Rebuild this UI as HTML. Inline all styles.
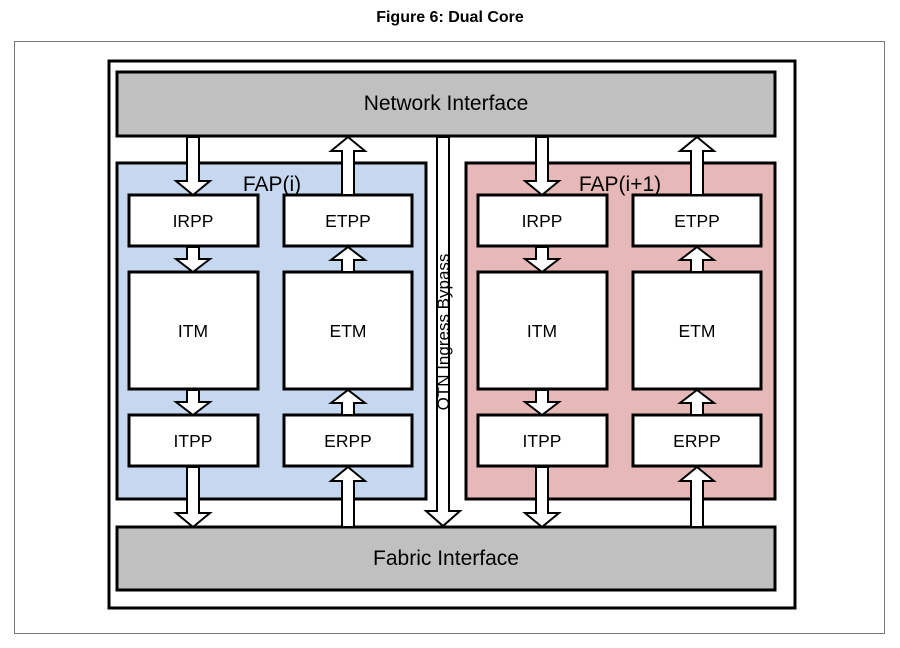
<!DOCTYPE html>
<html><head><style>body{margin:0;background:#fff}svg{display:block}</style></head><body>
<svg width="900" height="648" xmlns="http://www.w3.org/2000/svg" font-family="Liberation Sans, Arial, sans-serif">
<text x="450" y="22" text-anchor="middle" font-size="16" font-weight="bold">Figure 6:  Dual Core</text>
<rect x="14.5" y="41.5" width="870" height="592" fill="none" stroke="#777" stroke-width="1"/>
<rect x="109" y="61" width="686" height="547" fill="#fff" stroke="#000" stroke-width="3"/>
<rect x="117" y="72" width="658" height="64" fill="#c0c0c0" stroke="#000" stroke-width="3"/>
<text x="446" y="110" text-anchor="middle" font-size="21">Network Interface</text>
<rect x="117" y="527" width="658" height="63" fill="#c0c0c0" stroke="#000" stroke-width="3"/>
<text x="446" y="565" text-anchor="middle" font-size="21">Fabric Interface</text>
<rect x="117" y="163" width="309" height="336" fill="#c6d8ef" stroke="#000" stroke-width="3"/>
<rect x="466" y="163" width="309" height="336" fill="#e6b9b8" stroke="#000" stroke-width="3"/>
<text x="272" y="191" text-anchor="middle" font-size="21">FAP(i)</text>
<text x="620" y="191" text-anchor="middle" font-size="21">FAP(i+1)</text>
<g fill="#fff" stroke="#000" stroke-width="3">
<rect x="129" y="195" width="129" height="51"/><rect x="284" y="195" width="128" height="51"/>
<rect x="129" y="272" width="129" height="117"/><rect x="284" y="272" width="128" height="117"/>
<rect x="129" y="415" width="129" height="51"/><rect x="284" y="415" width="128" height="51"/>
<rect x="478" y="195" width="129" height="51"/><rect x="633" y="195" width="128" height="51"/>
<rect x="478" y="272" width="129" height="117"/><rect x="633" y="272" width="128" height="117"/>
<rect x="478" y="415" width="129" height="51"/><rect x="633" y="415" width="128" height="51"/>
</g>
<g font-size="17.5" text-anchor="middle">
<text x="193" y="227">IRPP</text><text x="348" y="227">ETPP</text>
<text x="193" y="337">ITM</text><text x="348" y="337">ETM</text>
<text x="193" y="447">ITPP</text><text x="348" y="447">ERPP</text>
<text x="542" y="227">IRPP</text><text x="697" y="227">ETPP</text>
<text x="542" y="337">ITM</text><text x="697" y="337">ETM</text>
<text x="542" y="447">ITPP</text><text x="697" y="447">ERPP</text>
</g>
<g fill="#fff" stroke="#000" stroke-width="2" stroke-linejoin="miter">
<polygon points="187,137 199,137 199,181 210,181 193,195 176,181 187,181"/>
<polygon points="187,247 199,247 199,259 210,259 193,272 176,259 187,259"/>
<polygon points="187,390 199,390 199,402 210,402 193,415 176,402 187,402"/>
<polygon points="187,467 199,467 199,513 210,513 193,527 176,513 187,513"/>
<polygon points="536,137 548,137 548,181 559,181 542,195 525,181 536,181"/>
<polygon points="536,247 548,247 548,259 559,259 542,272 525,259 536,259"/>
<polygon points="536,390 548,390 548,402 559,402 542,415 525,402 536,402"/>
<polygon points="536,467 548,467 548,513 559,513 542,527 525,513 536,513"/>
<polygon points="342,195 354,195 354,151 365,151 348,137 331,151 342,151"/>
<polygon points="342,272 354,272 354,260 365,260 348,247 331,260 342,260"/>
<polygon points="342,415 354,415 354,403 365,403 348,390 331,403 342,403"/>
<polygon points="342,527 354,527 354,481 365,481 348,467 331,481 342,481"/>
<polygon points="691,195 703,195 703,151 714,151 697,137 680,151 691,151"/>
<polygon points="691,272 703,272 703,260 714,260 697,260 680,260 691,260"/>
<polygon points="691,272 703,272 703,260 714,260 697,247 680,260 691,260"/>
<polygon points="691,415 703,415 703,403 714,403 697,390 680,403 691,403"/>
<polygon points="691,527 703,527 703,481 714,481 697,467 680,481 691,481"/>
<polygon points="437,137 449,137 449,511 460,511 443,526 426,511 437,511"/>
</g>
<rect x="438" y="246" width="10" height="172" fill="#fff"/>
<text transform="translate(449,332) rotate(-90)" text-anchor="middle" font-size="17">OTN Ingress Bypass</text>
</svg>
</body></html>
